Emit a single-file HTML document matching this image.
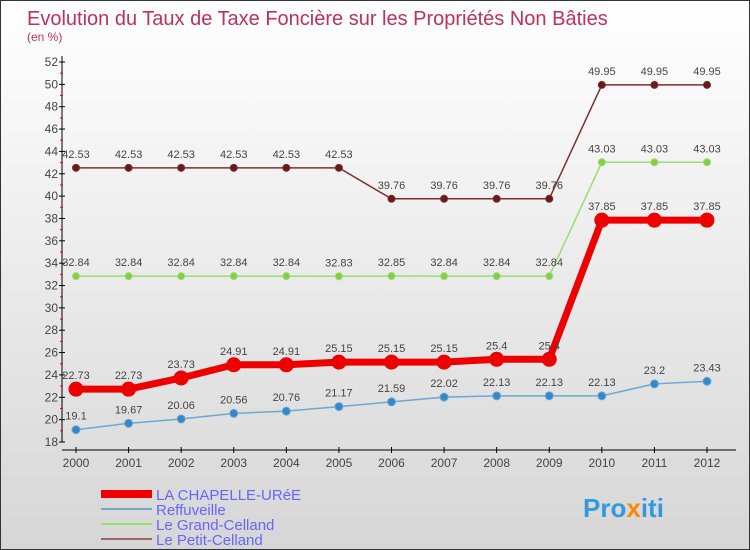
<!DOCTYPE html>
<html><head><meta charset="utf-8"><style>
body{margin:0}
#c{width:750px;height:550px;position:relative;overflow:hidden;box-sizing:border-box;border:1px solid #333;background:linear-gradient(#ffffff,#d6d6d6);font-family:"Liberation Sans",sans-serif}
</style></head><body>
<div id="c">
<svg id="s" width="750" height="550" style="position:absolute;left:0;top:0">
<text x="26" y="24" font-size="20" fill="#c0305a">Evolution du Taux de Taxe Foncière sur les Propriétés Non Bâties</text>
<text x="26" y="40" font-size="12" fill="#c0305a">(en %)</text>
<g id="axes"></g><g id="series"></g>
<g>
<line x1="100" y1="493" x2="151" y2="493" stroke="#e00" stroke-width="8"/>
<text x="155" y="499" font-size="15" fill="#6666ff">LA CHAPELLE-URéE</text>
<line x1="100" y1="508" x2="151" y2="508" stroke="#6fa8d0" stroke-width="2"/>
<text x="155" y="514" font-size="15" fill="#6666ff">Reffuveille</text>
<line x1="100" y1="523" x2="151" y2="523" stroke="#99dd77" stroke-width="2"/>
<text x="155" y="529" font-size="15" fill="#6666ff">Le Grand-Celland</text>
<line x1="100" y1="538" x2="151" y2="538" stroke="#996666" stroke-width="2"/>
<text x="155" y="544" font-size="15" fill="#6666ff">Le Petit-Celland</text>
</g>
<text x="582" y="516" font-size="26" font-weight="bold" fill="#3399dd">Pro<tspan fill="#ff8800">x</tspan>iti</text>
</svg>
</div>
<script>
const years=[2000,2001,2002,2003,2004,2005,2006,2007,2008,2009,2010,2011,2012];
const yTicks=[18,20,22,24,26,28,30,32,34,36,38,40,42,44,46,48,50,52];
const chapelle=[22.73,22.73,23.73,24.91,24.91,25.15,25.15,25.15,25.4,25.4,37.85,37.85,37.85];
const reffuveille=[19.1,19.67,20.06,20.56,20.76,21.17,21.59,22.02,22.13,22.13,22.13,23.2,23.43];
const grand=[32.84,32.84,32.84,32.84,32.84,32.83,32.85,32.84,32.84,32.84,43.03,43.03,43.03];
const petit=[42.53,42.53,42.53,42.53,42.53,42.53,39.76,39.76,39.76,39.76,49.95,49.95,49.95];
const NS="http://www.w3.org/2000/svg";
const xS=i=>75+i*(706-75)/(years.length-1);
const yS=v=>441-(v-18)*(380/34);
function mk(t,a,p){const e=document.createElementNS(NS,t);for(const k in a)e.setAttribute(k,a[k]);p.appendChild(e);return e;}
const ax=document.getElementById('axes'),sr=document.getElementById('series');
let yl=mk('line',{x1:61,y1:55,x2:61,y2:441,stroke:'#000'},ax);


let xl=mk('line',{x1:61,y1:449,x2:735,y2:449,stroke:'#000'},ax);


yTicks.forEach((v,i)=>{
 mk('line',{x1:58,y1:yS(v),x2:64,y2:yS(v),stroke:'#000'},ax);
 if(i<yTicks.length-1)mk('line',{x1:59,y1:yS(v+1),x2:62,y2:yS(v+1),stroke:'#e00'},ax);
 const t=mk('text',{x:57,y:yS(v)+4,'font-size':12,'text-anchor':'end',fill:'#444'},ax);t.textContent=v;
 
 
});
years.forEach((y,i)=>{
 mk('line',{x1:xS(i),y1:446,x2:xS(i),y2:452,stroke:'#000'},ax);
 const t=mk('text',{x:xS(i),y:466,'font-size':12,'text-anchor':'middle',fill:'#444'},ax);t.textContent=y;
 
 
});
function series(d,col,w,r,fill,name){
 const g=mk('g',{},sr);
 
 
 mk('polyline',{points:d.map((v,i)=>xS(i)+','+yS(v)).join(' '),fill:'none',stroke:col,'stroke-width':w},g);
 d.forEach((v,i)=>{
  const c=mk('circle',{cx:xS(i),cy:yS(v),r:r,fill:fill,stroke:col,'stroke-width':1},g);
  
  
  const t=mk('text',{x:xS(i),y:yS(v)-10,'font-size':11,'text-anchor':'middle',fill:'#444'},g);t.textContent=String(v);
  
  
 });
}
series(petit,'#7a3030',1.5,3.5,'#661a1a','series-petit-celland');
series(grand,'#99dd77',1.5,3.5,'#88cc44','series-grand-celland');
series(reffuveille,'#6fa8d0',1.5,4,'#3388cc','series-reffuveille');
series(chapelle,'#ee0000',7,7,'#ee0000','series-la-chapelle');
</script>
</body></html>
